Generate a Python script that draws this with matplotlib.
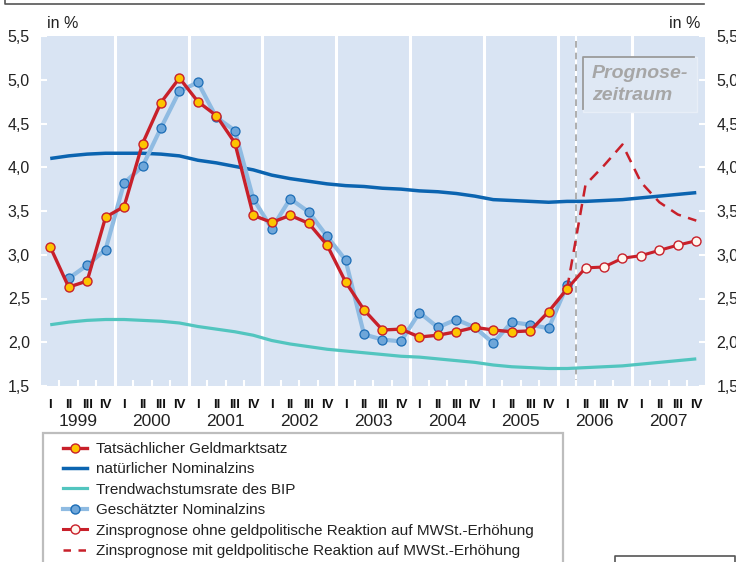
import matplotlib.pyplot as plt
from matplotlib.lines import Line2D
from matplotlib.patches import Rectangle
import matplotlib.transforms as mtransforms

plt.rcParams["font.family"] = ["Liberation Sans", "DejaVu Sans"]

# quarterly data 1999 Q1 .. 2007 Q4 (36 quarters)
years = ["1999", "2000", "2001", "2002", "2003", "2004", "2005", "2006", "2007"]
quarters = ["I", "II", "III", "IV"]

geldmarktsatz = [3.09, 2.63, 2.70, 3.43,
                 3.55, 4.27, 4.74, 5.02,
                 4.75, 4.59, 4.28, 3.45,
                 3.37, 3.45, 3.36, 3.11,
                 2.69, 2.37, 2.14, 2.15,
                 2.06, 2.08, 2.12, 2.17,
                 2.14, 2.12, 2.13, 2.35,
                 2.61]
geschaetzt = [2.73, 2.88, 3.06,
              3.82, 4.01, 4.45, 4.87,
              4.97, 4.57, 4.42, 3.64,
              3.30, 3.64, 3.49, 3.21,
              2.94, 2.09, 2.03, 2.01,
              2.34, 2.17, 2.26, 2.17,
              1.99, 2.23, 2.20, 2.16,
              2.65]
nat_zins = [4.10, 4.13, 4.15, 4.16,
            4.16, 4.16, 4.15, 4.13,
            4.08, 4.05, 4.01, 3.97,
            3.91, 3.87, 3.84, 3.81,
            3.79, 3.78, 3.76, 3.75,
            3.73, 3.72, 3.70, 3.67,
            3.63, 3.62, 3.61, 3.60,
            3.61, 3.61, 3.62, 3.63,
            3.65, 3.67, 3.69, 3.71]
trend_bip = [2.20, 2.23, 2.25, 2.26,
             2.26, 2.25, 2.24, 2.22,
             2.18, 2.15, 2.12, 2.08,
             2.02, 1.98, 1.95, 1.92,
             1.90, 1.88, 1.86, 1.84,
             1.83, 1.81, 1.79, 1.77,
             1.74, 1.72, 1.71, 1.70,
             1.70, 1.71, 1.72, 1.73,
             1.75, 1.77, 1.79, 1.81]
prog_ohne = [2.61, 2.85, 2.86, 2.96, 2.99, 3.05, 3.11, 3.16]
prog_mit = [2.61, 3.80, 4.02, 4.26, 3.83, 3.60, 3.46, 3.39]

yticks = [1.5, 2.0, 2.5, 3.0, 3.5, 4.0, 4.5, 5.0, 5.5]

n = len(years) * 4
xc = [i + 0.5 for i in range(n)]

RED = "#c8202a"
YELLOW = "#fdc400"
DARKBLUE = "#0b64b0"
LIGHTBLUE = "#8fbbe2"
MARKBLUE = "#6ea6d9"
MARKEDGE = "#1c6db6"
TEAL = "#52c5bf"
BG = "#d9e4f3"

fig = plt.figure(figsize=(7.36, 5.62), dpi=100)
ax = fig.add_axes([41 / 736, 1 - 386 / 562, 664.5 / 736, 350 / 562])
ax.set_facecolor(BG)
for s in ax.spines.values():
    s.set_visible(False)
ax.set_xlim(0, n)
ax.set_ylim(1.5, 5.5)

# year separators
for k in range(1, len(years)):
    ax.axvline(4 * k, color="white", lw=2.2, zorder=1)
# forecast start marker
ax.axvline(29, color="white", lw=1.5, zorder=1)
ax.axvline(29, color="#a0a0a0", lw=1.2, ls=(0, (4, 3)), zorder=1.1)

# prognose box
ax.add_patch(Rectangle((583 / 736, 1 - 111.5 / 562), 113.5 / 736, 54 / 562,
                       transform=fig.transFigure, facecolor="#dfe8f4",
                       edgecolor="#e8eef7", lw=1, zorder=1.2))
fig.add_artist(Line2D([583 / 736, 583 / 736, 693.5 / 736],
                      [1 - 109 / 562, 1 - 57.3 / 562, 1 - 57.3 / 562],
                      color="#9a9a9a", lw=1.3))
fig.text(592 / 736, 1 - 78 / 562, "Prognose-", fontsize=14, fontweight="bold",
         fontstyle="italic", color="#a6a6a6", va="baseline")
fig.text(592 / 736, 1 - 100 / 562, "zeitraum", fontsize=14, fontweight="bold",
         fontstyle="italic", color="#a6a6a6", va="baseline")

ax.plot(xc, trend_bip, color=TEAL, lw=2.3, zorder=2, solid_capstyle="butt")
ax.plot(xc, nat_zins, color=DARKBLUE, lw=2.5, zorder=2, solid_capstyle="butt")
ax.plot(xc[1:1 + len(geschaetzt)], geschaetzt, color=LIGHTBLUE, lw=3, marker="o",
        ms=6.5, mfc=MARKBLUE, mec=MARKEDGE, mew=0.9, zorder=3)
ax.plot(xc[28:28 + len(prog_mit)], prog_mit, color=RED, lw=1.8,
        ls=(0, (4.5, 3)), zorder=4)
ax.plot(xc[28:28 + len(prog_ohne)], prog_ohne, color=RED, lw=2.2, marker="o",
        ms=6.5, mfc="#fff6ee", mec=RED, mew=1.0, zorder=4)
ax.plot(xc[:len(geldmarktsatz)], geldmarktsatz, color=RED, lw=2.4, marker="o",
        ms=6.5, mfc=YELLOW, mec=RED, mew=1.0, zorder=5)

# y axis (both sides)
ylabels = [f"{v:.1f}".replace(".", ",") for v in yticks]
ax.set_yticks(yticks, ylabels)
ax.tick_params(axis="y", which="major", direction="in", length=4, width=1.5,
               color="white", labelsize=11.5, labelcolor="#222222", pad=8,
               left=True, right=True, labelleft=True, labelright=True)

# x axis: quarter labels + white inner ticks between quarters
ax.set_xticks(xc, quarters * len(years))
ax.tick_params(axis="x", which="major", length=0, pad=9.5, labelsize=9.5,
               labelcolor="#111111")
for lab in ax.get_xticklabels():
    lab.set_family(["Liberation Sans Narrow", "Liberation Sans"])
    lab.set_fontweight("bold")
ax.set_xticks([i for i in range(1, n) if i % 4 != 0], minor=True)
ax.tick_params(axis="x", which="minor", direction="in", length=4, width=1.5,
               color="white")

trans = mtransforms.blended_transform_factory(ax.transData, ax.transAxes)
for k, y in enumerate(years):
    ax.text(4 * k + 2, -0.1, y, transform=trans, ha="center", va="center",
            fontsize=12.5, color="#222222")

fig.text(47 / 736, 1 - 24 / 562, "in %", fontsize=11.5, va="center", color="#222222")
fig.text(700 / 736, 1 - 24 / 562, "in %", fontsize=11.5, va="center", ha="right",
         color="#222222")

# page frame fragments
fig.add_artist(Line2D([5 / 736, 5 / 736, 704 / 736], [1.0, 1 - 3.5 / 562, 1 - 3.5 / 562],
                      color="#555555", lw=1.2))
fig.add_artist(Line2D([615 / 736, 615 / 736, 735 / 736, 735 / 736],
                      [0, 1 - 556 / 562, 1 - 556 / 562, 0], color="#555555", lw=1.2))

# legend
fig.add_artist(Rectangle((43 / 736, -0.05), 520 / 736, 0.05 + 1 - 432.5 / 562,
                         transform=fig.transFigure, facecolor="none",
                         edgecolor="#bdbdbd", lw=1.6))
handles = [
    Line2D([], [], color=RED, lw=2.4, marker="o", ms=6.5, mfc=YELLOW, mec=RED),
    Line2D([], [], color=DARKBLUE, lw=2.5),
    Line2D([], [], color=TEAL, lw=2.3),
    Line2D([], [], color=LIGHTBLUE, lw=3, marker="o", ms=6.5, mfc=MARKBLUE, mec=MARKEDGE),
    Line2D([], [], color=RED, lw=2.2, marker="o", ms=6.5, mfc="#fff6ee", mec=RED),
    Line2D([], [], color=RED, lw=1.8, ls=(0, (3, 3))),
]
labels = [
    "Tatsächlicher Geldmarktsatz",
    "natürlicher Nominalzins",
    "Trendwachstumsrate des BIP",
    "Geschätzter Nominalzins",
    "Zinsprognose ohne geldpolitische Reaktion auf MWSt.-Erhöhung",
    "Zinsprognose mit geldpolitische Reaktion auf MWSt.-Erhöhung",
]
fig.legend(handles, labels, loc="upper left", bbox_to_anchor=(63 / 736, 1 - 442 / 562),
           frameon=False, fontsize=11, handlelength=1.55, handletextpad=0.6,
           labelspacing=0.42, borderpad=0, borderaxespad=0, labelcolor="#222222")

fig.savefig("out.png", dpi=100)
